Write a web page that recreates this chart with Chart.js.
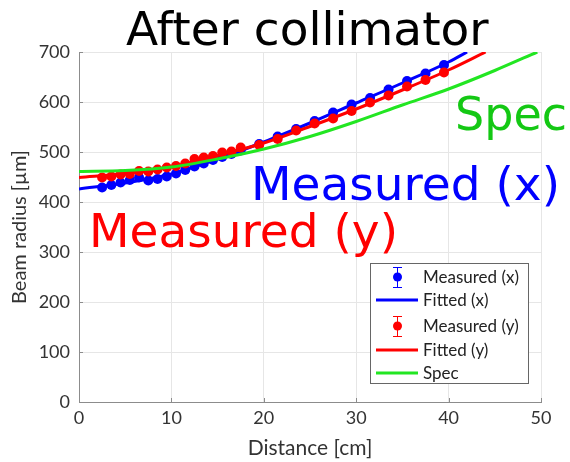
<!DOCTYPE html>
<html>
<head>
<meta charset="utf-8">
<script src="https://cdn.jsdelivr.net/npm/chart.js@4"></script>
<style>
  html, body { margin: 0; padding: 0; background: #fff; }
  #wrap { width: 570px; height: 462px; }
</style>
</head>
<body>
<div id="wrap"><canvas id="c" width="570" height="462"></canvas></div>
<script>
// Measured beam radius (µm) versus distance (cm)
const measX_dist = [2.5,3.5,4.5,5.5,6.5,7.5,8.5,9.5,10.5,11.5,12.5,13.5,14.5,15.5,16.5,17.5,19.5,21.5,23.5,25.5,27.5,29.5,31.5,33.5,35.5,37.5,39.5];
const measX_radius = [429,434,439,444,449,443,446,451,457,464,471,477,484,490,496,503,516,531,546,562,579,595,608,625,642,657,674];
const measY_dist = measX_dist;
const measY_radius = [449,451,455,456,462,461,465,469,472,477,486,489,492,499,501,509,514,526,543,557,567,582,599,613,631,644,659];

// Fitted curves and specification envelope
const fitX_dist = [0,5,10,15,20,25,30,35,40,42];
const fitX_radius = [426,438,456,486,520,558,598,638,680,700];
const fitY_dist = [0,5,10,15,20,25,30,35,40,44];
const fitY_radius = [449,457,470,493,518,551,586,624,664,700];
const spec_dist = [0,5,10,15,20,25,30,35,40,45,49.6];
const spec_radius = [461,463,470,486,506,531,561,594,626,663,700];

// Axis ticks
const xTicks = [0,10,20,30,40,50];
const yTicks = [0,100,200,300,400,500,600,700];

const BLUE = '#0000ff';
const RED = '#ff0000';
const GREEN = '#22e622';
const GREEN_TEXT = '#14c814';
const AXIS = '#8c8c8c';

const pts = (xs, ys) => xs.map((x, i) => ({x, y: ys[i]}));

const datasets = [
  { label: 'Measured (x)', data: pts(measX_dist, measX_radius), showLine: false,
    backgroundColor: BLUE, borderColor: BLUE, pointRadius: 5, pointBorderWidth: 0, order: 5, kind: 'marker' },
  { label: 'Fitted (x)', data: pts(fitX_dist, fitX_radius), showLine: true, pointRadius: 0,
    borderColor: BLUE, borderWidth: 3, cubicInterpolationMode: 'monotone', order: 4, kind: 'line' },
  { label: 'Measured (y)', data: pts(measY_dist, measY_radius), showLine: false,
    backgroundColor: RED, borderColor: RED, pointRadius: 5, pointBorderWidth: 0, order: 3, kind: 'marker' },
  { label: 'Fitted (y)', data: pts(fitY_dist, fitY_radius), showLine: true, pointRadius: 0,
    borderColor: RED, borderWidth: 3, cubicInterpolationMode: 'monotone', order: 2, kind: 'line' },
  { label: 'Spec', data: pts(spec_dist, spec_radius), showLine: true, pointRadius: 0,
    borderColor: GREEN, borderWidth: 3, cubicInterpolationMode: 'monotone', order: 1, kind: 'line' }
];

// Short inward tick marks on the left and bottom axes
const innerTicks = {
  id: 'innerTicks',
  afterDatasetsDraw(chart) {
    const {ctx, chartArea: a, scales: {x, y}} = chart;
    ctx.save();
    ctx.strokeStyle = AXIS;
    ctx.lineWidth = 1;
    ctx.beginPath();
    xTicks.forEach(v => {
      const px = Math.round(x.getPixelForValue(v)) + 0.5;
      ctx.moveTo(px, a.bottom); ctx.lineTo(px, a.bottom - 4);
    });
    yTicks.forEach(v => {
      const py = Math.round(y.getPixelForValue(v)) + 0.5;
      ctx.moveTo(a.left, py); ctx.lineTo(a.left + 4, py);
    });
    ctx.stroke();
    ctx.restore();
  }
};

// Title, in-plot labels and a boxed legend drawn on top of the chart
const overlay = {
  id: 'overlay',
  afterDraw(chart) {
    const ctx = chart.ctx;
    ctx.save();
    ctx.textBaseline = 'alphabetic';
    ctx.textAlign = 'left';
    ctx.font = '47px "DejaVu Sans"';
    ctx.fillStyle = '#000';
    ctx.fillText('After collimator', 126, 45);

    ctx.font = '46px "DejaVu Sans"';
    ctx.fillStyle = GREEN_TEXT;
    ctx.fillText('Spec', 455, 130);
    ctx.font = '47px "DejaVu Sans"';
    ctx.fillStyle = BLUE;
    ctx.fillText('Measured (x)', 251, 200);
    ctx.fillStyle = RED;
    ctx.fillText('Measured (y)', 89, 247);

    // legend box
    const bx = 370, by = 263, bw = 158, bh = 120;
    ctx.fillStyle = '#fff';
    ctx.fillRect(bx, by, bw, bh);
    ctx.strokeStyle = '#666';
    ctx.lineWidth = 1;
    ctx.strokeRect(bx + 0.5, by + 0.5, bw, bh);
    const rows = [277, 300, 326, 350, 373];
    ctx.font = '17px Lato';
    ctx.textBaseline = 'middle';
    datasets.forEach((ds, i) => {
      const y = rows[i];
      const col = ds.kind === 'marker' ? ds.backgroundColor : ds.borderColor;
      if (ds.kind === 'marker') {
        const cx = 397;
        ctx.strokeStyle = col;
        ctx.lineWidth = 1;
        ctx.beginPath();
        ctx.moveTo(cx + 0.5, y - 10); ctx.lineTo(cx + 0.5, y + 10);
        ctx.moveTo(cx - 4, y - 10 + 0.5); ctx.lineTo(cx + 5, y - 10 + 0.5);
        ctx.moveTo(cx - 4, y + 10 + 0.5); ctx.lineTo(cx + 5, y + 10 + 0.5);
        ctx.stroke();
        ctx.fillStyle = col;
        ctx.beginPath();
        ctx.arc(cx + 0.5, y, 4.5, 0, Math.PI * 2);
        ctx.fill();
      } else {
        ctx.strokeStyle = col;
        ctx.lineWidth = 3;
        ctx.beginPath();
        ctx.moveTo(376, y); ctx.lineTo(418, y);
        ctx.stroke();
      }
      ctx.fillStyle = '#222';
      ctx.fillText(ds.label, 423, y + 1);
    });
    ctx.restore();
  }
};

new Chart(document.getElementById('c'), {
  type: 'scatter',
  data: { datasets },
  options: {
    responsive: false,
    animation: false,
    layout: { padding: { top: 52, right: 29, left: 0, bottom: 0 } },
    plugins: { legend: { display: false }, tooltip: { enabled: false } },
    scales: {
      x: {
        type: 'linear', min: 0, max: 50,
        afterBuildTicks: s => { s.ticks = xTicks.map(v => ({value: v})); },
        afterFit: s => { s.height = 60; },
        grid: { color: '#e6e6e6', drawTicks: false },
        border: { color: AXIS },
        ticks: { padding: 5, color: '#333', font: { family: 'Lato', size: 18 } },
        title: { display: true, text: 'Distance [cm]', color: '#333',
                 font: { family: 'Lato', size: 21 }, padding: { top: 0, bottom: 1 } }
      },
      y: {
        type: 'linear', min: 0, max: 700,
        afterBuildTicks: s => { s.ticks = yTicks.map(v => ({value: v})); },
        afterFit: s => { s.width = 79; },
        grid: { color: '#e6e6e6', drawTicks: false },
        border: { color: AXIS },
        ticks: { padding: 9, color: '#333', font: { family: 'Lato', size: 18 } },
        title: { display: true, text: 'Beam radius [µm]', color: '#333',
                 font: { family: 'Lato', size: 20 }, padding: { top: 8, bottom: 0 } }
      }
    }
  },
  plugins: [innerTicks, overlay]
});
</script>
</body>
</html>
